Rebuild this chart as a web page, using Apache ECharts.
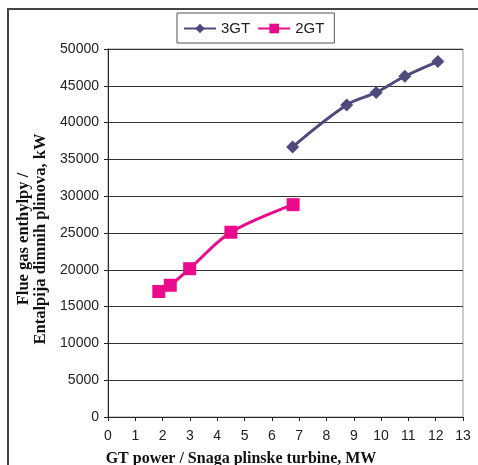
<!DOCTYPE html>
<html><head><meta charset="utf-8">
<script src="https://cdn.jsdelivr.net/npm/echarts@6/dist/echarts.min.js"></script>
<style>html,body{margin:0;padding:0;background:#fff}#c{width:478px;height:465px}</style>
</head><body><div id="c"></div>
<script>
const xTicks = [0,1,2,3,4,5,6,7,8,9,10,11,12,13];
const yTicks = [0,5000,10000,15000,20000,25000,30000,35000,40000,45000,50000];
const gt3X = [6.76, 8.74, 9.82, 10.87, 12.08];
const gt3Y = [36700, 42400, 44100, 46300, 48300];
const gt2X = [1.86, 2.28, 2.99, 4.5, 6.78];
const gt2Y = [17050, 17900, 20150, 25100, 28850];
const seriesNames = ['3GT', '2GT'];
const xTitle = 'GT power / Snaga plinske turbine, MW';
const yTitle1 = 'Flue gas enthylpy /';
const yTitle2 = 'Entalpija dimnih plinova, kW';

const pair = (xs, ys) => xs.map((x, i) => [x, ys[i]]);
const chart = echarts.init(document.getElementById('c'), null, {renderer: 'canvas'});
const sans = "'Liberation Sans', Arial, sans-serif";
const serif = "'Liberation Serif', 'Times New Roman', serif";
chart.setOption({
  animation: false,
  backgroundColor: '#fff',
  grid: {left: 108, right: 15, top: 49, bottom: 48, show: true, borderColor: '#999', borderWidth: 1},
  legend: {
    left: 177, top: 13, padding: [8, 10, 7, 6], itemGap: 7, itemWidth: 32, itemHeight: 12,
    borderColor: '#555', borderWidth: 1,
    textStyle: {fontFamily: sans, fontSize: 15, color: '#222'},
    data: seriesNames
  },
  xAxis: {
    type: 'value', min: xTicks[0], max: xTicks[xTicks.length - 1], interval: 1,
    axisLine: {show: true, lineStyle: {color: '#222', width: 1}},
    axisTick: {show: true, length: 4, lineStyle: {color: '#222'}},
    splitLine: {show: false},
    axisLabel: {fontFamily: sans, fontSize: 14, color: '#222', margin: 12, formatter: v => String(v)}
  },
  yAxis: {
    type: 'value', min: yTicks[0], max: yTicks[yTicks.length - 1], interval: 5000,
    axisLine: {show: true, lineStyle: {color: '#222', width: 1}},
    axisTick: {show: true, length: 4, lineStyle: {color: '#222'}},
    splitLine: {show: true, lineStyle: {color: '#333', width: 1}},
    axisLabel: {fontFamily: sans, fontSize: 14, color: '#222', margin: 9, formatter: v => String(v)}
  },
  graphic: [
    {type: 'rect', shape: {x: 8, y: 9, width: 700, height: 700}, style: {fill: 'none', stroke: '#444', lineWidth: 2}, silent: true, z: 100},
    {type: 'text', x: 241, y: 459, style: {text: xTitle, font: "bold 16px " + serif, fill: '#111', textAlign: 'center', textVerticalAlign: 'middle'}},
    {type: 'text', x: 32.5, y: 239, rotation: Math.PI / 2, style: {text: yTitle1 + '\n' + yTitle2, font: "bold 16.5px " + serif, fill: '#111', textAlign: 'center', textVerticalAlign: 'middle', lineHeight: 17}}
  ],
  series: [
    {name: seriesNames[0], type: 'line', data: pair(gt3X, gt3Y), smooth: 0.35, symbol: 'diamond', symbolSize: 13,
     lineStyle: {color: '#4E4A7E', width: 3}, itemStyle: {color: '#4E4A7E'}, z: 3},
    {name: seriesNames[1], type: 'line', data: pair(gt2X, gt2Y), smooth: 0.35, symbol: 'rect', symbolSize: 13,
     lineStyle: {color: '#EA0A8C', width: 3}, itemStyle: {color: '#EA0A8C'}, z: 3}
  ]
});
</script></body></html>
